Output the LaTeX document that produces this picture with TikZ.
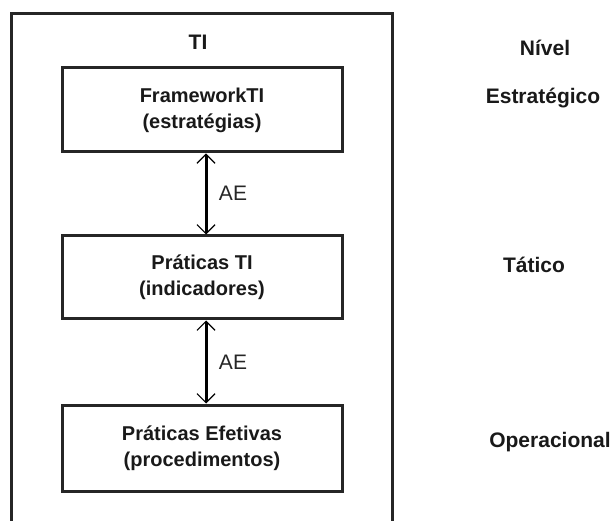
\documentclass[tikz,border=0pt]{standalone}
\usepackage{fontspec}
\setmainfont{Liberation Sans}
\usetikzlibrary{arrows.meta}
\begin{document}
\begin{tikzpicture}[x=1pt,y=-1pt,
  frame/.style={line width=3pt,draw=black!85},
  layerbox/.style={draw=black!85,line width=3pt,minimum width=280pt,
    align=center,inner sep=0pt,font=\fontsize{20}{26}\selectfont\bfseries,text=black!90},
  levellabel/.style={font=\fontsize{21}{25}\selectfont\bfseries,text=black!90,inner sep=0pt},
  barb/.tip={Straight Barb[length=9pt,width=18pt,line width=1.2pt]},
  link/.style={draw=black,line width=3pt,barb-barb},
  linklabel/.style={font=\fontsize{21}{25}\selectfont,text=black!85,inner sep=0pt}]
  \useasboundingbox (0,0) rectangle (616,521);

  % outer frame, open at the bottom
  \coordinate (fbl) at (11.5,523);
  \coordinate (ftl) at (11.5,13.5);
  \coordinate (ftr) at (392,13.5);
  \coordinate (fbr) at (392,523);
  \draw[frame] (fbl) -- (ftl) -- (ftr) -- (fbr);
  \node[levellabel] (ti) at (198,42) {TI};

  % the three layers
  \node[layerbox,minimum height=84pt] (fw) at (202,110) {FrameworkTI\\(estratégias)};
  \node[layerbox,minimum height=83pt] (pt) at (202,277.5) {Práticas TI\\(indicadores)};
  \node[layerbox,minimum height=86pt] (pe) at (202,448) {Práticas Efetivas\\(procedimentos)};

  % alignment links between layers
  \draw[link] ([xshift=4pt]fw.south) -- ([xshift=4pt]pt.north);
  \draw[link] ([xshift=4pt]pt.south) -- ([xshift=4pt]pe.north);
  \node[linklabel] (ae1) at (233,193) {AE};
  \node[linklabel] (ae2) at (233,362) {AE};

  % level column
  \node[levellabel] (nivel) at (545,48) {Nível};
  \node[levellabel] (estr) at (543,98) {Estratégico};
  \node[levellabel] (tat) at (534,265) {Tático};
  \node[levellabel] (oper) at (550,442) {Operacional};
\end{tikzpicture}
\end{document}
